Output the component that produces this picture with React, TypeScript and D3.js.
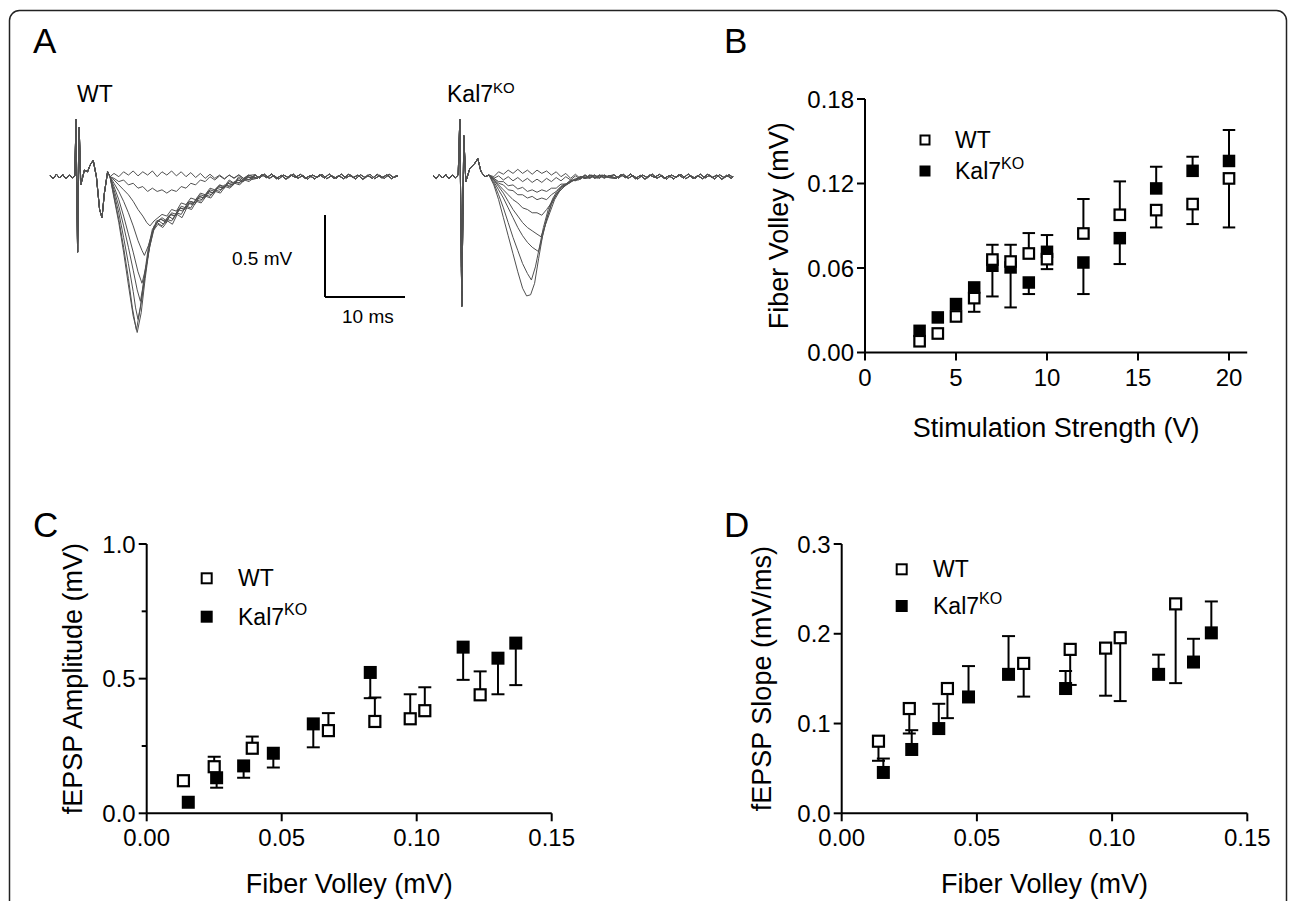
import React from 'react';
import * as d3 from 'd3';

// ---------- Panel A: field potential traces (ms, mV) ----------
const wtStim = [[0, 0.01], [0.4, -0.012], [0.8, 0.015], [1.2, -0.008], [1.6, 0.012], [2, -0.014], [2.4, 0.01], [2.8, -0.006], [3.1, 0.005], [3.25, 0.35], [3.45, -0.46], [3.65, 0.3], [3.85, -0.05], [4.3, 0.04], [4.7, 0.03], [5.0, 0.07], [5.4, 0.1], [5.8, 0.0], [6.2, -0.2], [6.5, -0.25], [6.8, -0.1], [7.2, 0.03], [7.5, 0.0]];
const wt1 = [[8, 0.02], [8.6, 0.0], [9.2, 0.03], [9.8, 0.01], [10.4, 0.035], [11, 0.005], [11.6, 0.03], [12.2, 0.01], [12.8, 0.035], [13.4, 0.0], [14, 0.03], [14.6, 0.01], [15.2, 0.035], [15.8, 0.005], [16.4, 0.03], [17, 0.0], [17.6, 0.025], [18.2, -0.005], [18.8, 0.02], [19.4, -0.01], [20, 0.015], [20.6, -0.01], [21.2, 0.01], [21.8, -0.012], [22.4, 0.01], [23, -0.008], [23.6, 0.012], [24.2, -0.01], [24.8, 0.01]];
const wt2 = [[8, -0.01], [8.6, -0.03], [9.2, -0.02], [9.8, -0.05], [10.4, -0.04], [11, -0.07], [11.6, -0.06], [12.2, -0.09], [12.8, -0.07], [13.4, -0.09], [14, -0.08], [14.6, -0.1], [15.2, -0.08], [15.8, -0.09], [16.4, -0.06], [17, -0.07], [17.6, -0.04], [18.2, -0.05], [18.8, -0.02], [19.4, -0.03], [20, 0.0], [20.6, -0.02], [21.2, 0.005], [21.8, -0.015], [22.4, 0.01], [23, -0.01], [23.6, 0.01], [24.2, -0.012], [24.8, 0.008]];
const wt3 = [[8, -0.02], [8.6, -0.05], [9.2, -0.08], [9.8, -0.11], [10.4, -0.15], [11, -0.2], [11.6, -0.24], [12.1, -0.28], [12.5, -0.3], [13, -0.27], [13.5, -0.25], [14, -0.23], [14.6, -0.24], [15.2, -0.2], [15.8, -0.21], [16.4, -0.16], [17, -0.17], [17.6, -0.13], [18.2, -0.14], [18.8, -0.1], [19.4, -0.11], [20, -0.07], [20.6, -0.08], [21.2, -0.05], [21.8, -0.06], [22.4, -0.02], [23, -0.04], [23.6, 0.0], [24.2, -0.02], [24.8, 0.01]];
const wt4 = [[8, -0.04], [8.6, -0.09], [9.2, -0.15], [9.8, -0.22], [10.4, -0.3], [11, -0.39], [11.5, -0.45], [11.8, -0.48], [12.3, -0.42], [12.8, -0.34], [13.3, -0.28], [13.8, -0.26], [14.4, -0.27], [15, -0.23], [15.6, -0.24], [16.2, -0.19], [16.8, -0.2], [17.4, -0.15], [18, -0.16], [18.6, -0.12], [19.2, -0.13], [19.8, -0.09], [20.4, -0.1], [21, -0.06], [21.6, -0.07], [22.2, -0.04], [22.8, -0.05], [23.4, -0.02], [24, -0.03], [24.6, 0.0], [25.2, -0.01]];
const wt5 = [[8, -0.06], [8.6, -0.14], [9.2, -0.24], [9.8, -0.35], [10.4, -0.46], [11, -0.58], [11.5, -0.65], [12, -0.55], [12.5, -0.42], [13, -0.32], [13.5, -0.27], [14, -0.25], [14.6, -0.27], [15.2, -0.22], [15.8, -0.23], [16.4, -0.18], [17, -0.19], [17.6, -0.15], [18.2, -0.16], [18.8, -0.11], [19.4, -0.12], [20, -0.08], [20.6, -0.09], [21.2, -0.05], [21.8, -0.07], [22.4, -0.03], [23, -0.04], [23.6, -0.01], [24.2, -0.03], [24.8, 0.0], [25.4, -0.01]];
const wt6 = [[8, -0.08], [8.6, -0.18], [9.2, -0.3], [9.8, -0.43], [10.4, -0.57], [10.9, -0.69], [11.3, -0.76], [11.8, -0.62], [12.3, -0.46], [12.8, -0.34], [13.3, -0.27], [13.9, -0.26], [14.5, -0.28], [15.1, -0.23], [15.7, -0.24], [16.3, -0.19], [16.9, -0.2], [17.5, -0.16], [18.1, -0.17], [18.7, -0.12], [19.3, -0.13], [19.9, -0.09], [20.5, -0.1], [21.1, -0.06], [21.7, -0.07], [22.3, -0.04], [22.9, -0.05], [23.5, -0.02], [24.1, -0.03], [24.7, 0.0], [25.3, -0.01]];
const wt7 = [[8, -0.1], [8.6, -0.22], [9.2, -0.37], [9.8, -0.53], [10.4, -0.7], [10.7, -0.8], [11, -0.87], [11.5, -0.74], [12, -0.56], [12.5, -0.4], [13, -0.3], [13.6, -0.27], [14.2, -0.29], [14.8, -0.24], [15.4, -0.26], [16, -0.2], [16.6, -0.21], [17.2, -0.16], [17.8, -0.17], [18.4, -0.13], [19, -0.14], [19.6, -0.1], [20.2, -0.11], [20.8, -0.07], [21.4, -0.08], [22, -0.05], [22.6, -0.06], [23.2, -0.03], [23.8, -0.04], [24.4, -0.01], [25, -0.02]];
const wt8 = [[8, -0.12], [8.6, -0.26], [9.2, -0.43], [9.8, -0.62], [10.3, -0.8], [10.8, -0.935], [11.3, -0.8], [11.8, -0.6], [12.3, -0.43], [12.8, -0.32], [13.4, -0.28], [14, -0.3], [14.6, -0.26], [15.2, -0.27], [15.8, -0.22], [16.4, -0.23], [17, -0.18], [17.6, -0.19], [18.2, -0.14], [18.8, -0.15], [19.4, -0.11], [20, -0.12], [20.6, -0.08], [21.2, -0.09], [21.8, -0.05], [22.4, -0.06], [23, -0.03], [23.6, -0.04], [24.2, -0.01], [24.8, -0.02], [25.4, 0.0]];
const wt9 = [[8, -0.13], [8.6, -0.28], [9.2, -0.46], [9.8, -0.66], [10.4, -0.85], [10.9, -0.95], [11.4, -0.83], [11.9, -0.62], [12.4, -0.44], [12.9, -0.33], [13.5, -0.29], [14.1, -0.31], [14.7, -0.27], [15.3, -0.29], [15.9, -0.23], [16.5, -0.25], [17.1, -0.19], [17.7, -0.2], [18.3, -0.15], [18.9, -0.16], [19.5, -0.12], [20.1, -0.13], [20.7, -0.09], [21.3, -0.1], [21.9, -0.06], [22.5, -0.07], [23.1, -0.04], [23.7, -0.05], [24.3, -0.02], [24.9, -0.03], [25.5, 0.0]];
const wtTailA = [[25.6, 0.012], [26.2, -0.008], [26.8, 0.015], [27.4, -0.01], [28, 0.006], [28.6, -0.014], [29.2, 0.01], [29.8, -0.006], [30.4, 0.016], [31, -0.01], [31.6, 0.008], [32.2, -0.015], [32.8, 0.01], [33.4, -0.004], [34, 0.014], [34.6, -0.012], [35.2, 0.006], [35.8, -0.01], [36.4, 0.016], [37, -0.008], [37.6, 0.01], [38.2, -0.014], [38.8, 0.012], [39.4, -0.006], [40, 0.015], [40.6, -0.012], [41.2, 0.008], [41.8, -0.01], [42.4, 0.014], [43, -0.006], [43.5, 0.008]];
const wtTailB = [[25.9, -0.01], [26.5, 0.012], [27.1, -0.006], [27.7, 0.016], [28.3, -0.012], [28.9, 0.008], [29.5, -0.015], [30.1, 0.01], [30.7, -0.004], [31.3, 0.014], [31.9, -0.01], [32.5, 0.006], [33.1, -0.014], [33.7, 0.012], [34.3, -0.008], [34.9, 0.016], [35.5, -0.01], [36.1, 0.006], [36.7, -0.012], [37.3, 0.014], [37.9, -0.006], [38.5, 0.01], [39.1, -0.016], [39.7, 0.008], [40.3, -0.01], [40.9, 0.014], [41.5, -0.008], [42.1, 0.012], [42.7, -0.012], [43.3, 0.006], [43.5, 0.0]];

const koStim = [[0, 0.008], [0.4, -0.01], [0.8, 0.014], [1.2, -0.008], [1.6, 0.012], [2, -0.012], [2.4, 0.01], [2.8, -0.006], [3.15, 0.01], [3.35, 0.35], [3.6, -0.79], [3.85, 0.25], [4.1, -0.03], [4.6, 0.05], [5.2, 0.08], [5.6, 0.11], [6.0, 0.03], [6.5, 0.0], [7.0, 0.01]];
const ko1 = [[7.6, 0.0], [8.2, 0.03], [8.8, 0.015], [9.4, 0.04], [10, 0.02], [10.6, 0.045], [11.2, 0.02], [11.8, 0.04], [12.4, 0.015], [13, 0.04], [13.6, 0.02], [14.2, 0.035], [14.8, 0.01], [15.4, 0.03], [16, 0.0], [16.6, 0.02], [17.2, -0.01], [17.8, 0.015], [18.4, -0.01], [19, 0.012], [19.6, -0.008], [20.2, 0.01], [20.8, -0.01], [21.4, 0.01], [22, -0.006]];
const ko2 = [[7.6, -0.01], [8.2, 0.005], [8.8, -0.02], [9.4, 0.0], [10, -0.025], [10.6, -0.005], [11.2, -0.03], [11.8, -0.01], [12.4, -0.035], [13, -0.015], [13.6, -0.035], [14.2, -0.01], [14.8, -0.03], [15.4, -0.005], [16, -0.025], [16.6, 0.0], [17.2, -0.02], [17.8, 0.005], [18.4, -0.015], [19, 0.01], [19.6, -0.01], [20.2, 0.01], [20.8, -0.008], [21.4, 0.01], [22, -0.005]];
const ko3 = [[7.6, -0.01], [8.2, -0.03], [8.8, -0.03], [9.4, -0.055], [10, -0.05], [10.6, -0.075], [11.2, -0.065], [11.8, -0.09], [12.4, -0.08], [13, -0.095], [13.6, -0.08], [14.2, -0.09], [14.8, -0.07], [15.4, -0.07], [16, -0.045], [16.6, -0.045], [17.2, -0.02], [17.8, -0.025], [18.4, 0.0], [19, -0.012], [19.6, 0.01], [20.2, -0.01], [20.8, 0.01], [21.4, -0.008], [22, 0.006]];
const ko4 = [[7.6, -0.01], [8.2, -0.04], [8.8, -0.05], [9.4, -0.08], [10, -0.085], [10.6, -0.11], [11.2, -0.11], [11.8, -0.13], [12.4, -0.12], [13, -0.14], [13.6, -0.13], [14.2, -0.14], [14.8, -0.11], [15.4, -0.09], [16, -0.06], [16.6, -0.05], [17.2, -0.025], [17.8, -0.02], [18.4, 0.0], [19, -0.01], [19.6, 0.01], [20.2, -0.008], [20.8, 0.01], [21.4, -0.01], [22, 0.005]];
const ko5 = [[7.6, -0.02], [8.2, -0.05], [8.8, -0.08], [9.4, -0.11], [10, -0.14], [10.6, -0.16], [11.2, -0.19], [11.8, -0.2], [12.4, -0.22], [13, -0.22], [13.6, -0.235], [14.2, -0.2], [14.8, -0.16], [15.4, -0.11], [16, -0.08], [16.6, -0.05], [17.2, -0.035], [17.8, -0.01], [18.4, -0.015], [19, 0.005], [19.6, -0.01], [20.2, 0.01], [20.8, -0.008], [21.4, 0.01], [22, -0.005]];
const ko6 = [[7.6, -0.02], [8.2, -0.06], [8.8, -0.1], [9.4, -0.15], [10, -0.2], [10.6, -0.24], [11.2, -0.28], [11.8, -0.31], [12.4, -0.33], [13, -0.35], [13.5, -0.366], [14, -0.3], [14.6, -0.22], [15.2, -0.14], [15.8, -0.09], [16.4, -0.06], [17, -0.04], [17.6, -0.02], [18.2, -0.02], [18.8, 0.0], [19.4, -0.01], [20, 0.01], [20.6, -0.01], [21.2, 0.01], [22, -0.005]];
const ko7 = [[7.6, -0.03], [8.2, -0.08], [8.8, -0.13], [9.4, -0.19], [10, -0.25], [10.6, -0.31], [11.2, -0.36], [11.8, -0.4], [12.4, -0.43], [13.2, -0.457], [13.7, -0.36], [14.2, -0.26], [14.8, -0.17], [15.4, -0.11], [16, -0.07], [16.6, -0.05], [17.2, -0.03], [17.8, -0.02], [18.4, 0.0], [19, -0.01], [19.6, 0.01], [20.2, -0.008], [20.8, 0.01], [21.4, -0.006], [22, 0.008]];
const ko8 = [[7.6, -0.04], [8.2, -0.11], [8.8, -0.19], [9.4, -0.28], [10, -0.37], [10.6, -0.45], [11.2, -0.53], [11.8, -0.59], [12.3, -0.63], [12.8, -0.55], [13.3, -0.43], [13.8, -0.31], [14.4, -0.2], [15, -0.13], [15.6, -0.08], [16.2, -0.05], [16.8, -0.04], [17.4, -0.02], [18, -0.02], [18.6, 0.0], [19.2, -0.01], [19.8, 0.01], [20.4, -0.008], [21, 0.01], [22, -0.004]];
const ko9 = [[7.6, -0.05], [8.2, -0.14], [8.8, -0.25], [9.4, -0.36], [10, -0.47], [10.6, -0.58], [11.2, -0.68], [11.7, -0.727], [12.2, -0.72], [12.7, -0.65], [13.2, -0.5], [13.7, -0.36], [14.3, -0.24], [14.9, -0.15], [15.5, -0.1], [16.1, -0.06], [16.7, -0.045], [17.3, -0.025], [17.9, -0.02], [18.5, 0.0], [19.1, -0.01], [19.7, 0.01], [20.3, -0.01], [20.9, 0.008], [22, -0.004]];
const koTailA = [[22.6, 0.012], [23.2, -0.008], [23.8, 0.014], [24.4, -0.01], [25, 0.008], [25.6, -0.014], [26.2, 0.01], [26.8, -0.006], [27.4, 0.016], [28, -0.01], [28.6, 0.008], [29.2, -0.015], [29.8, 0.01], [30.4, -0.004], [31, 0.014], [31.6, -0.012], [32.2, 0.006], [32.8, -0.01], [33.4, 0.016], [34, -0.008], [34.6, 0.01], [35.2, -0.014], [35.8, 0.012], [36.4, -0.006], [37, 0.012], [37.5, -0.004]];
const koTailB = [[22.9, -0.01], [23.5, 0.012], [24.1, -0.006], [24.7, 0.016], [25.3, -0.012], [25.9, 0.008], [26.5, -0.015], [27.1, 0.01], [27.7, -0.004], [28.3, 0.014], [28.9, -0.01], [29.5, 0.006], [30.1, -0.014], [30.7, 0.012], [31.3, -0.008], [31.9, 0.016], [32.5, -0.01], [33.1, 0.006], [33.7, -0.012], [34.3, 0.014], [34.9, -0.006], [35.5, 0.01], [36.1, -0.016], [36.7, 0.008], [37.3, -0.01], [37.5, 0.0]];

// ---------- Panel B: fiber volley vs stimulation strength ----------
const stimV = [3, 4, 5, 6, 7, 8, 9, 10, 12, 14, 16, 18, 20];
const fvWT = [0.008, 0.0135, 0.0256, 0.0386, 0.066, 0.0646, 0.0703, 0.0663, 0.0845, 0.0978, 0.1011, 0.1054, 0.1236];
const fvWTErrEnd = [0.008, 0.0135, 0.0256, 0.0289, 0.0765, 0.0765, 0.0848, 0.0592, 0.109, 0.1215, 0.0888, 0.0912, 0.0888];
const fvKO = [0.0154, 0.0249, 0.0344, 0.0462, 0.0616, 0.0604, 0.0497, 0.0715, 0.0639, 0.0812, 0.1165, 0.129, 0.136];
const fvKOErrEnd = [0.0154, 0.0249, 0.0344, 0.0462, 0.0398, 0.032, 0.0415, 0.0834, 0.0415, 0.0628, 0.1319, 0.139, 0.158];

// ---------- Panels C, D: input-output (x = mean fiber volley) ----------
const fvMeanWT = [0.0136, 0.025, 0.0391, 0.0673, 0.0845, 0.0976, 0.103, 0.1235];
const fvMeanKO = [0.0154, 0.0259, 0.0359, 0.0469, 0.0617, 0.0828, 0.1172, 0.1301, 0.1367];

const ampWT = [0.121, 0.173, 0.2416, 0.307, 0.341, 0.351, 0.381, 0.44];
const ampWTErrEnd = [0.121, 0.21, 0.285, 0.372, 0.43, 0.442, 0.468, 0.527];
const ampKO = [0.041, 0.132, 0.176, 0.223, 0.332, 0.523, 0.617, 0.576, 0.632];
const ampKOErrEnd = [0.041, 0.095, 0.132, 0.17, 0.245, 0.4275, 0.4955, 0.442, 0.476];

const slopeWT = [0.0803, 0.1167, 0.139, 0.167, 0.1826, 0.184, 0.1956, 0.2333];
const slopeWTErrEnd = [0.0585, 0.0889, 0.106, 0.13, 0.143, 0.131, 0.125, 0.145];
const slopeKO = [0.0455, 0.0711, 0.0944, 0.1296, 0.1548, 0.139, 0.1548, 0.1685, 0.201];
const slopeKOErrEnd = [0.061, 0.0926, 0.122, 0.164, 0.1974, 0.1585, 0.1767, 0.1944, 0.236];

const FONT = 'Arial, "Liberation Sans", Helvetica, sans-serif';

// one-sided error bars, open squares for WT on top
function Series({ xs, ys, ends, x, y, filled, size }) {
  const cap = size;
  return (
    <g>
      {xs.map((xv, i) => ends[i] === ys[i] ? null : (
        <g key={'e' + i} stroke="#000" strokeWidth={2}>
          <line x1={x(xv)} x2={x(xv)} y1={y(ys[i])} y2={y(ends[i])} />
          <line x1={x(xv) - cap / 2} x2={x(xv) + cap / 2} y1={y(ends[i])} y2={y(ends[i])} />
        </g>
      ))}
      {xs.map((xv, i) => (
        <rect key={'m' + i}
          x={x(xv) - size / 2 + (filled ? 0 : 1)} y={y(ys[i]) - size / 2 + (filled ? 0 : 1)}
          width={size - (filled ? 0 : 2)} height={size - (filled ? 0 : 2)}
          fill={filled ? '#000' : '#fff'} stroke={filled ? 'none' : '#000'} strokeWidth={2.2} />
      ))}
    </g>
  );
}

function Axes({ x, y, xTicks, yTicks, yMinor = [], fx, fy, xTitle, yTitle, xTitleY, yTitleX }) {
  const [x0, x1] = x.domain();
  const [y0, y1] = y.domain();
  const ax = x(x0), ay = y(y0);
  return (
    <g fontFamily={FONT} fill="#000">
      <line x1={ax} x2={ax} y1={ay} y2={y(y1)} stroke="#000" strokeWidth={2} />
      <line x1={ax} x2={x(x1)} y1={ay} y2={ay} stroke="#000" strokeWidth={2} />
      {yTicks.map(t => (
        <g key={'y' + t}>
          <line x1={ax - 8} x2={ax} y1={y(t)} y2={y(t)} stroke="#000" strokeWidth={2} />
          <text x={ax - 11} y={y(t)} dy="0.36em" textAnchor="end" fontSize={24}>{fy(t)}</text>
        </g>
      ))}
      {yMinor.map(t => (
        <line key={'ym' + t} x1={ax - 5} x2={ax} y1={y(t)} y2={y(t)} stroke="#000" strokeWidth={2} />
      ))}
      {xTicks.map(t => (
        <g key={'x' + t}>
          <line x1={x(t)} x2={x(t)} y1={ay} y2={ay + 8} stroke="#000" strokeWidth={2} />
          <text x={x(t)} y={ay + 33} textAnchor="middle" fontSize={24}>{fx(t)}</text>
        </g>
      ))}
      <text x={(ax + x(x1)) / 2} y={xTitleY} textAnchor="middle" fontSize={27}>{xTitle}</text>
      <text transform={`translate(${yTitleX},${(ay + y(y1)) / 2}) rotate(-90)`} textAnchor="middle" fontSize={27}>{yTitle}</text>
    </g>
  );
}

function Legend({ sx, y1, y2, tx, size }) {
  return (
    <g fontFamily={FONT} fontSize={23}>
      <rect x={sx - size / 2 + 1} y={y1 - size / 2 + 1} width={size - 2} height={size - 2} fill="#fff" stroke="#000" strokeWidth={2} />
      <text x={tx} y={y1 + 8}>WT</text>
      <rect x={sx - size / 2} y={y2 - size / 2} width={size} height={size} fill="#000" />
      <text x={tx} y={y2 + 8}>Kal7<tspan fontSize={16} dy={-10}>KO</tspan></text>
    </g>
  );
}

export default function App() {
  // panel A scales
  const wtX = d3.scaleLinear().domain([0, 43.5]).range([50, 398]);
  const koX = d3.scaleLinear().domain([0, 37.5]).range([433, 733]);
  const vY = d3.scaleLinear().domain([0, -0.5]).range([176.7, 258.7]);
  const wtLine = d3.line().x(d => wtX(d[0])).y(d => vY(d[1]));
  const koLine = d3.line().x(d => koX(d[0])).y(d => vY(d[1]));
  const wtTraces = [wt1, wt2, wt3, wt4, wt5, wt6, wt7, wt8, wt9].map((p, i) => [...wtStim, ...p, ...(i % 2 ? wtTailA : wtTailB)]);
  const koTraces = [ko1, ko2, ko3, ko4, ko5, ko6, ko7, ko8, ko9].map((p, i) => [...koStim, ...p, ...(i % 2 ? koTailA : koTailB)]);
  const barX = 325, barY = 297;
  const barW = wtX(10) - wtX(0);
  const barH = vY(-0.5) - vY(0);

  // panel B
  const bx = d3.scaleLinear().domain([0, 21]).range([865, 1247.2]);
  const by = d3.scaleLinear().domain([0, 0.18]).range([352.5, 99]);
  // panel C
  const cx = d3.scaleLinear().domain([0, 0.15]).range([146.7, 551.7]);
  const cy = d3.scaleLinear().domain([0, 1]).range([813.3, 544]);
  // panel D
  const dx = d3.scaleLinear().domain([0, 0.15]).range([841.7, 1247.3]);
  const dy = d3.scaleLinear().domain([0, 0.3]).range([813.3, 544]);

  return (
    <svg width={1290} height={901} style={{ position: 'absolute', left: 0, top: 0, background: '#fff' }}>
      <style>{'body{margin:0}'}</style>
      <rect x={0} y={0} width={1290} height={901} fill="#fff" />
      <rect x={9.5} y={10.5} width={1277} height={1000} rx={10} fill="none" stroke="#222" strokeWidth={1.5} />

      <g fontFamily={FONT} fontSize={35}>
        <text x={33} y={53}>A</text>
        <text x={724} y={53}>B</text>
        <text x={33} y={537}>C</text>
        <text x={724} y={537}>D</text>
      </g>

      {/* Panel A */}
      <g fontFamily={FONT} fontSize={23}>
        <text x={77} y={102}>WT</text>
        <text x={447} y={102}>Kal7<tspan fontSize={15} dy={-9}>KO</tspan></text>
      </g>
      <g fill="none" stroke="#505050" strokeWidth={1} strokeLinejoin="round">
        {wtTraces.map((t, i) => <path key={'w' + i} d={wtLine(t)} />)}
        {koTraces.map((t, i) => <path key={'k' + i} d={koLine(t)} />)}
      </g>
      <g stroke="#000" strokeWidth={2} fill="none">
        <line x1={barX} x2={barX} y1={barY - barH} y2={barY} />
        <line x1={barX} x2={barX + barW} y1={barY} y2={barY} />
      </g>
      <g fontFamily={FONT} fontSize={19}>
        <text x={232} y={265}>0.5 mV</text>
        <text x={342} y={323}>10 ms</text>
      </g>

      {/* Panel B */}
      <Axes x={bx} y={by} xTicks={[0, 5, 10, 15, 20]} yTicks={[0, 0.06, 0.12, 0.18]}
        fx={d3.format('d')} fy={d3.format('.2f')}
        xTitle="Stimulation Strength (V)" yTitle="Fiber Volley (mV)" xTitleY={437} yTitleX={788} />
      <Series xs={stimV} ys={fvKO} ends={fvKOErrEnd} x={bx} y={by} filled size={12.5} />
      <Series xs={stimV} ys={fvWT} ends={fvWTErrEnd} x={bx} y={by} filled={false} size={12.5} />
      <Legend sx={925} y1={140} y2={171} tx={955} size={11} />

      {/* Panel C */}
      <Axes x={cx} y={cy} xTicks={[0, 0.05, 0.1, 0.15]} yTicks={[0, 0.5, 1]} yMinor={[0.25, 0.75]}
        fx={d3.format('.2f')} fy={d3.format('.1f')}
        xTitle="Fiber Volley (mV)" yTitle="fEPSP Amplitude (mV)" xTitleY={893} yTitleX={82} />
      <Series xs={fvMeanKO} ys={ampKO} ends={ampKOErrEnd} x={cx} y={cy} filled size={13} />
      <Series xs={fvMeanWT} ys={ampWT} ends={ampWTErrEnd} x={cx} y={cy} filled={false} size={13} />
      <Legend sx={206.7} y1={578.3} y2={616.7} tx={238} size={12} />

      {/* Panel D */}
      <Axes x={dx} y={dy} xTicks={[0, 0.05, 0.1, 0.15]} yTicks={[0, 0.1, 0.2, 0.3]}
        fx={d3.format('.2f')} fy={d3.format('.1f')}
        xTitle="Fiber Volley (mV)" yTitle="fEPSP Slope (mV/ms)" xTitleY={893} yTitleX={771} />
      <Series xs={fvMeanKO} ys={slopeKO} ends={slopeKOErrEnd} x={dx} y={dy} filled size={13} />
      <Series xs={fvMeanWT} ys={slopeWT} ends={slopeWTErrEnd} x={dx} y={dy} filled={false} size={13} />
      <Legend sx={901.7} y1={569.3} y2={606} tx={933} size={12} />
    </svg>
  );
}
